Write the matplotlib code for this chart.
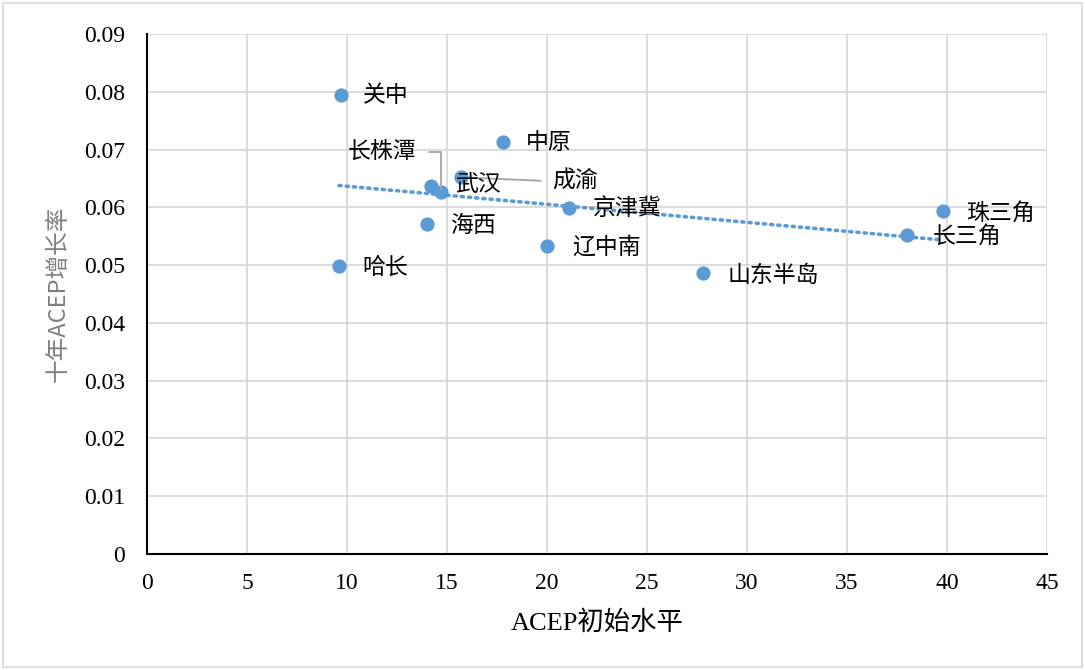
import matplotlib
matplotlib.use("Agg")
import matplotlib.pyplot as plt
import numpy as np
from matplotlib.patches import Rectangle

# data
regions = ["关中", "中原", "成渝", "武汉", "长株潭", "京津冀", "海西", "辽中南",
           "哈长", "山东半岛", "长三角", "珠三角"]
acep_init = [9.7, 17.8, 15.7, 14.2, 14.7, 21.1, 14.0, 20.0, 9.6, 27.8, 38.0, 39.8]
growth = [0.0794, 0.0713, 0.0652, 0.0637, 0.0627, 0.0599, 0.0571, 0.0533,
          0.0498, 0.0486, 0.0552, 0.0594]
x_ticks = [0, 5, 10, 15, 20, 25, 30, 35, 40, 45]
y_ticks = [0, 0.01, 0.02, 0.03, 0.04, 0.05, 0.06, 0.07, 0.08, 0.09]

# label offsets in pixels (text left edge relative to the point)
offsets = {"关中": (22, 0), "中原": (23, 0), "成渝": (91, -4), "武汉": (24, 1),
           "长株潭": (-93, 40), "京津冀": (24, -1), "海西": (23, -1),
           "辽中南": (25, -1), "哈长": (23, -1), "山东半岛": (25, -2),
           "长三角": (26, -1), "珠三角": (23, -2)}

BLUE = "#5b9bd5"
GRID = "#d9d9d9"
SERIF = ["Liberation Serif", "Noto Sans CJK SC"]
CJK = ["Noto Sans CJK SC", "DejaVu Sans"]

fig = plt.figure(figsize=(10.85, 6.7), dpi=100)
ax = fig.add_axes([147 / 1085, 1 - 554 / 670, 900 / 1085, 520 / 670])

fig.patches.append(Rectangle((3 / 1085, 3 / 670), 1079 / 1085, 664 / 670,
                             transform=fig.transFigure, fill=False,
                             edgecolor=GRID, lw=1.2))

ax.scatter(acep_init, growth, s=105, color=BLUE, zorder=3, linewidths=0)

# linear trendline fitted to the points
k, b = np.polyfit(acep_init, growth, 1)
xs = np.array([min(acep_init), max(acep_init)])
ax.plot(xs, k * xs + b, color=BLUE, lw=2.6, ls=(0, (0.6, 1.4)),
        dash_capstyle="round", zorder=2)

for name, xv, yv in zip(regions, acep_init, growth):
    dx, dy = offsets[name]
    kw = {}
    if name == "长株潭":
        kw["arrowprops"] = dict(arrowstyle="-", color="#a6a6a6", lw=1.3,
                                connectionstyle="angle,angleA=0,angleB=90,rad=0",
                                relpos=(1, 0.5), shrinkA=7, shrinkB=2)
    elif name == "成渝":
        kw["arrowprops"] = dict(arrowstyle="-", color="#a6a6a6", lw=1.3,
                                relpos=(0, 0.5), shrinkA=6, shrinkB=5)
    ax.annotate(name, (xv, yv), xytext=(dx, dy), textcoords="offset pixels",
                ha="left", va="center", fontsize=16.5, family=CJK, zorder=4, **kw)

ax.set_xlim(0, 45)
ax.set_ylim(0, 0.09)
ax.set_xticks(x_ticks)
ax.set_yticks(y_ticks)
ax.set_yticklabels(["0"] + [f"{v:.2f}" for v in y_ticks[1:]])
ax.tick_params(length=0, labelsize=17)
ax.tick_params(axis="y", pad=16)
ax.tick_params(axis="x", pad=14)
for lab in ax.get_xticklabels() + ax.get_yticklabels():
    lab.set_family(SERIF)

ax.grid(True, color=GRID, lw=1.3)
ax.set_axisbelow(True)
for side in ["top", "right"]:
    ax.spines[side].set_visible(False)
for side in ["left", "bottom"]:
    ax.spines[side].set_color("black")
    ax.spines[side].set_linewidth(1.5)

ax.set_xlabel("ACEP初始水平", fontsize=19, family=SERIF, labelpad=11)
fig.text(58 / 1085, 1 - 294 / 670, "十年ACEP增长率", rotation=90, ha="center",
         va="center", fontsize=17, family=CJK, color="#7f7f7f")

fig.savefig("out.png", dpi=100)
